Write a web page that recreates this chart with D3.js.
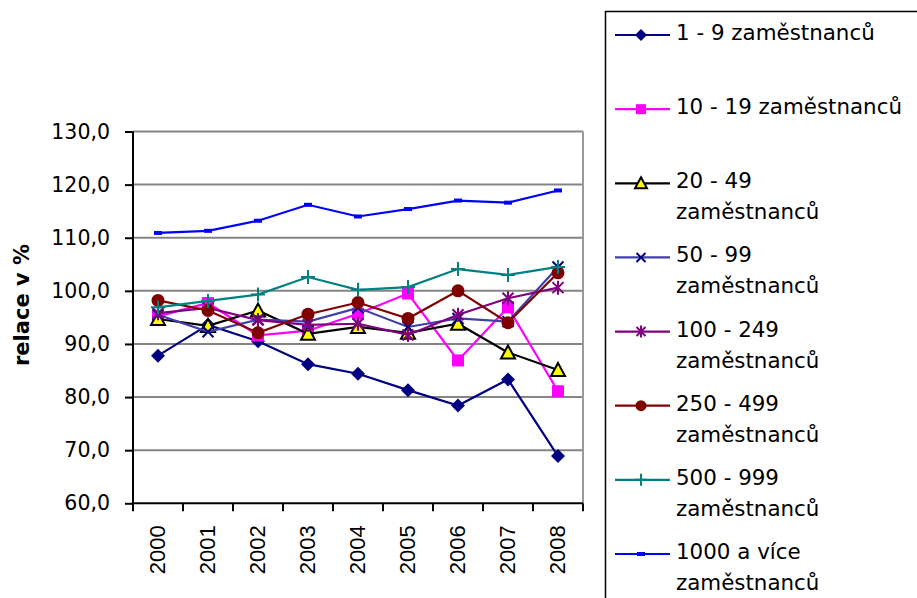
<!DOCTYPE html>
<html>
<head>
<meta charset="utf-8">
<script src="https://cdn.jsdelivr.net/npm/d3@7"></script>
<style>
  body { margin: 0; background: #fff; }
  svg { display: block; }
  .ytick { font-family: "DejaVu Sans", Verdana, sans-serif; font-size: 20.5px; }
  .xtick { font-family: "Liberation Sans", Arial, sans-serif; font-size: 22px; }
  .ytitle { font-family: "DejaVu Sans", Verdana, sans-serif; font-size: 21px; font-weight: bold; }
  .legtext { font-family: "DejaVu Sans", Verdana, sans-serif; font-size: 21.4px; }
</style>
</head>
<body>
<svg id="chart" width="917" height="598"></svg>
<script>
// data
const years = ['2000','2001','2002','2003','2004','2005','2006','2007','2008'];
const yTicks = [60, 70, 80, 90, 100, 110, 120, 130];

const s1_9     = [87.8, 93.6, 90.5, 86.2, 84.4, 81.3, 78.4, 83.3, 68.9];
const s10_19   = [95.2, 97.7, 91.6, 92.5, 95.7, 99.5, 86.9, 96.9, 81.1];
const s20_49   = [94.7, 93.4, 96.3, 91.9, 93.2, 92.1, 93.8, 88.4, 85.1];
const s50_99   = [95.5, 92.3, 94.6, 94.2, 96.8, 93.2, 94.8, 94.2, 104.5];
const s100_249 = [95.8, 96.8, 94.5, 93.6, 93.8, 91.7, 95.5, 98.6, 100.6];
const s250_499 = [98.2, 96.3, 92.1, 95.6, 97.8, 94.8, 100.0, 94.0, 103.4];
const s500_999 = [96.9, 98.1, 99.3, 102.6, 100.2, 100.7, 104.1, 103.0, 104.5];
const s1000    = [110.9, 111.3, 113.2, 116.2, 114.0, 115.4, 117.0, 116.6, 118.9];

const legendLines = [
  ['1 - 9 zaměstnanců'],
  ['10 - 19 zaměstnanců'],
  ['20 - 49', 'zaměstnanců'],
  ['50 - 99', 'zaměstnanců'],
  ['100 - 249', 'zaměstnanců'],
  ['250 - 499', 'zaměstnanců'],
  ['500 - 999', 'zaměstnanců'],
  ['1000 a více', 'zaměstnanců']
];

const series = [
  {values: s1_9,     line: '#000080', marker: 'diamond',  fill: '#000080', stroke: 'none'},
  {values: s10_19,   line: '#ff00ff', marker: 'square',   fill: '#ff00ff', stroke: 'none'},
  {values: s20_49,   line: '#000000', marker: 'triangle', fill: '#ffff00', stroke: '#000000'},
  {values: s50_99,   line: '#4040a8', marker: 'x',        fill: 'none',    stroke: '#000080'},
  {values: s100_249, line: '#800080', marker: 'star',     fill: 'none',    stroke: '#800080'},
  {values: s250_499, line: '#800000', marker: 'circle',   fill: '#800000', stroke: 'none'},
  {values: s500_999, line: '#008080', marker: 'plus',     fill: 'none',    stroke: '#008080'},
  {values: s1000,    line: '#0000ff', marker: 'dash',     fill: '#0000ff', stroke: 'none'}
];

const svg = d3.select('#chart');
const plotL = 133, plotR = 583, plotT = 131.5, plotB = 503.3;

const x = d3.scaleBand().domain(years).range([plotL, plotR]);
const y = d3.scaleLinear().domain([60, 130]).range([plotB, plotT]);
const cx = d => x(d) + x.bandwidth() / 2;

// gridlines
svg.append('g').selectAll('line')
  .data(yTicks.filter(v => v > 60))
  .enter().append('line')
  .attr('x1', plotL).attr('x2', plotR)
  .attr('y1', d => y(d)).attr('y2', d => y(d))
  .attr('stroke', '#858585').attr('stroke-width', 2);

// plot border right
svg.append('line')
  .attr('x1', plotR).attr('x2', plotR).attr('y1', plotT).attr('y2', plotB)
  .attr('stroke', '#9a9a9a').attr('stroke-width', 2);

// y axis
let yAxis = svg.append('g').attr('transform', 'translate(' + plotL + ',0)')
  .call(d3.axisLeft(y).tickValues(yTicks).tickSize(8).tickPadding(15)
    .tickFormat(d => d3.format('.1f')(d).replace('.', ',')));
yAxis.attr('font-family', null).attr('font-size', null);
yAxis.select('.domain').attr('stroke', '#000').attr('stroke-width', 2).attr('d', 'M0,' + plotT + 'V' + plotB);
yAxis.selectAll('.tick line').attr('stroke', '#000').attr('stroke-width', 2);
yAxis.selectAll('text').attr('class', 'ytick').attr('fill', '#000');

// x axis, ticks on category boundaries
let xAxis = svg.append('g').attr('transform', 'translate(0,' + plotB + ')');
xAxis.append('line').attr('x1', plotL).attr('x2', plotR).attr('stroke', '#000').attr('stroke-width', 2);
xAxis.selectAll('.xt').data(years.concat(['end'])).enter().append('line')
  .attr('x1', (d, i) => plotL + i * x.bandwidth()).attr('x2', (d, i) => plotL + i * x.bandwidth())
  .attr('y1', 0).attr('y2', 8).attr('stroke', '#000').attr('stroke-width', 2);
xAxis.selectAll('text').data(years).enter().append('text')
  .attr('class', 'xtick')
  .attr('transform', d => 'translate(' + (cx(d) - 0.5) + ',22) rotate(-90)')
  .attr('text-anchor', 'end')
  .attr('dy', '0.36em')
  .text(d => d);

// y title
svg.append('text').attr('class', 'ytitle')
  .attr('transform', 'translate(21,305) rotate(-90)')
  .attr('text-anchor', 'middle').attr('dy', '0.36em')
  .text('relace v %');

function drawMarker(g, s, size) {
  const h = size / 2;
  if (s.marker === 'diamond') {
    g.append('path').attr('d', 'M0,' + (-h) + 'L' + h + ',0L0,' + h + 'L' + (-h) + ',0Z').attr('fill', s.fill);
  } else if (s.marker === 'square') {
    g.append('rect').attr('x', -h + 1).attr('y', -h + 1).attr('width', size - 2).attr('height', size - 2).attr('fill', s.fill);
  } else if (s.marker === 'triangle') {
    g.append('path').attr('d', 'M0,' + (-h) + 'L' + h + ',' + (h - 1) + 'L' + (-h) + ',' + (h - 1) + 'Z')
      .attr('fill', s.fill).attr('stroke', s.stroke).attr('stroke-width', 2).attr('stroke-linejoin', 'miter');
  } else if (s.marker === 'x') {
    const k = h - 1.5;
    g.append('path').attr('d', 'M' + (-k) + ',' + (-k) + 'L' + k + ',' + k + 'M' + k + ',' + (-k) + 'L' + (-k) + ',' + k)
      .attr('stroke', s.stroke).attr('stroke-width', 2);
  } else if (s.marker === 'star') {
    const k = h - 1.5;
    g.append('path').attr('d', 'M' + (-k) + ',' + (-k) + 'L' + k + ',' + k + 'M' + k + ',' + (-k) + 'L' + (-k) + ',' + k + 'M0,' + (-h) + 'V' + h)
      .attr('stroke', s.stroke).attr('stroke-width', 2);
  } else if (s.marker === 'circle') {
    g.append('circle').attr('r', h - 0.5).attr('fill', s.fill);
  } else if (s.marker === 'plus') {
    g.append('path').attr('d', 'M' + (-h) + ',0H' + h + 'M0,' + (-h) + 'V' + h)
      .attr('stroke', s.stroke).attr('stroke-width', 2);
  } else if (s.marker === 'dash') {
    g.append('rect').attr('x', -4).attr('y', -2).attr('width', 8).attr('height', 4).attr('fill', s.fill);
  }
}

const line = d3.line().x((d, i) => cx(years[i])).y(d => y(d));

series.forEach(s => {
  const g = svg.append('g');
  g.append('path').attr('d', line(s.values))
    .attr('fill', 'none').attr('stroke', s.line).attr('stroke-width', 2.2);
  s.values.forEach((v, i) => {
    const m = g.append('g').attr('transform', 'translate(' + cx(years[i]) + ',' + y(v) + ')');
    drawMarker(m, s, 14);
  });
});

// legend
const leg = svg.append('g');
leg.append('rect').attr('x', 605.5).attr('y', 11.5).attr('width', 400).attr('height', 700)
  .attr('fill', '#fff').attr('stroke', '#000').attr('stroke-width', 1.5);

const legY = d3.scaleLinear().domain([0, 7]).range([35, 554]);
series.forEach((s, i) => {
  const ly = legY(i);
  leg.append('line').attr('x1', 615).attr('x2', 670).attr('y1', ly).attr('y2', ly)
    .attr('stroke', s.line).attr('stroke-width', 2.2);
  const m = leg.append('g').attr('transform', 'translate(641,' + ly + ')');
  drawMarker(m, s, 12);
  const t = leg.append('text').attr('class', 'legtext').attr('x', 676).attr('y', ly + 5);
  legendLines[i].forEach((txt, k) => {
    t.append('tspan').attr('x', 676).attr('dy', k === 0 ? 0 : 31).text(txt);
  });
});
</script>
</body>
</html>
